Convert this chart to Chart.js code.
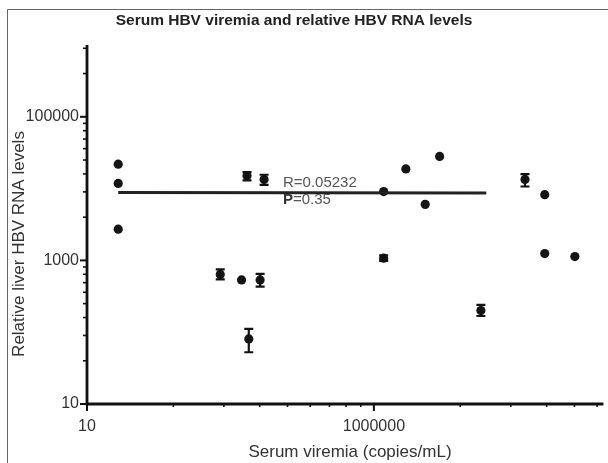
<!DOCTYPE html>
<html><head><meta charset="utf-8">
<script src="https://cdn.jsdelivr.net/npm/chart.js@4"></script>
<style>html,body{margin:0;padding:0;background:#fff;}#wrap{width:608px;height:463px;position:relative}</style>
</head><body><div id="wrap"><canvas id="c"></canvas></div>
<script>
const chartTitle = 'Serum HBV viremia and relative HBV RNA levels';
const xAxisTitle = 'Serum viremia (copies/mL)';
const yAxisTitle = 'Relative liver HBV RNA levels';
const viremia  = [35, 35, 35, 6150, 12200, 2100, 4940, 10400, 6600, 1.48e6, 3.61e6, 1.40e7, 7.85e6, 1.48e6, 7.33e7, 4.3e8, 9.5e8, 9.5e8, 3.18e9];
const rnaLevel = [21900, 11800, 2720, 15100, 13400, 638, 535, 535, 80.5, 9100, 18800, 28100, 6030, 1075, 200, 13400, 8240, 1245, 1130];
const rnaLow   = [null, null, null, 13000, 11300, 543, null, 431, 52.6, null, null, null, null, 984, 168, 10700, null, null, null];
const rnaHigh  = [null, null, null, 17000, 15600, 750, null, 649, 111, null, null, null, null, 1175, 240, 15900, null, null, null];
const fitX = [35, 9.1e7];
const fitY = [8810, 8650];
const xMajorTicks = [10, 1000000];
const yMajorTicks = [10, 1000, 100000];
const xRange = [10, 1e10];
const yRange = [10, 1e6];
const statR = 'R=0.05232';
const statPLabel = 'P';
const statPValue = '=0.35';

Chart.defaults.font.family = "'Liberation Sans', Arial, sans-serif";

function minorTicks(majors, exponent, max) {
  const out = [];
  const step = majors[1] / majors[0];
  let a = majors[0];
  while (a < max) {
    out.push(a);
    for (let k = 2; k <= 9; k++) {
      const v = a * Math.pow(k, exponent);
      if (v < max) out.push(v);
    }
    a = a * step;
  }
  return out;
}
const xAllTicks = minorTicks(xMajorTicks, 5, xRange[1]);
const yAllTicks = minorTicks(yMajorTicks, 2, yRange[1] * 1.0001);

const isMajor = (v, list) => list.some(m => Math.abs(v / m - 1) < 1e-6);

const decor = {
  id: 'decor',
  beforeDatasetsDraw(chart) {
    const ctx = chart.ctx, xs = chart.scales.x, ys = chart.scales.y;
    const ca = chart.chartArea;
    ctx.save();
    ctx.strokeStyle = '#666'; ctx.lineWidth = 1;
    ctx.beginPath(); ctx.moveTo(7.5, 463); ctx.lineTo(7.5, 9.5); ctx.lineTo(608, 9.5); ctx.stroke();
    ctx.strokeStyle = '#111';
    yAllTicks.forEach(v => {
      const py = ys.getPixelForValue(v);
      const major = isMajor(v, yMajorTicks);
      ctx.lineWidth = major ? 2 : 1.6;
      ctx.beginPath(); ctx.moveTo(ca.left, py); ctx.lineTo(ca.left - (major ? 7 : 4), py); ctx.stroke();
    });
    xAllTicks.forEach(v => {
      const px = xs.getPixelForValue(v);
      const major = isMajor(v, xMajorTicks);
      ctx.lineWidth = major ? 2 : 1.6;
      ctx.beginPath(); ctx.moveTo(px, ca.bottom); ctx.lineTo(px, ca.bottom + (major ? 7 : 3)); ctx.stroke();
    });
    ctx.lineWidth = 2.8;
    ctx.beginPath(); ctx.moveTo(ca.left, ca.top); ctx.lineTo(ca.left, ca.bottom); ctx.lineTo(ca.right, ca.bottom); ctx.stroke();
    ctx.restore();
  },
  afterDatasetsDraw(chart) {
    const ctx = chart.ctx, xs = chart.scales.x, ys = chart.scales.y;
    ctx.save();
    ctx.strokeStyle = '#111'; ctx.lineWidth = 2.2;
    viremia.forEach((xv, i) => {
      if (rnaLow[i] == null) return;
      const px = xs.getPixelForValue(xv);
      const y1 = ys.getPixelForValue(rnaLow[i]);
      const y2 = ys.getPixelForValue(rnaHigh[i]);
      ctx.beginPath();
      ctx.moveTo(px, y1); ctx.lineTo(px, y2);
      ctx.moveTo(px - 4.5, y1); ctx.lineTo(px + 4.5, y1);
      ctx.moveTo(px - 4.5, y2); ctx.lineTo(px + 4.5, y2);
      ctx.stroke();
    });
    ctx.restore();
  },
  afterDraw(chart) {
    const ctx = chart.ctx, xs = chart.scales.x, ys = chart.scales.y;
    ctx.save();
    ctx.fillStyle = '#222';
    ctx.font = "bold 15.5px 'Liberation Sans', Arial, sans-serif";
    ctx.textAlign = 'center'; ctx.textBaseline = 'middle';
    ctx.fillText(chartTitle, 294, 21);
    ctx.fillStyle = '#333';
    ctx.font = "17px 'Liberation Sans', Arial, sans-serif";
    ctx.fillText(xAxisTitle, 350, 452);
    ctx.save();
    ctx.translate(19, 244); ctx.rotate(-Math.PI / 2);
    ctx.fillText(yAxisTitle, 0, 0);
    ctx.restore();
    const tx = xs.getPixelForValue(26000);
    ctx.textAlign = 'left';
    ctx.font = "15px 'Liberation Sans', Arial, sans-serif";
    ctx.fillStyle = '#555';
    ctx.fillText(statR, tx, ys.getPixelForValue(12000));
    const py = ys.getPixelForValue(6970);
    ctx.font = "bold 15px 'Liberation Sans', Arial, sans-serif";
    ctx.fillStyle = '#333';
    ctx.fillText(statPLabel, tx, py);
    const w = ctx.measureText(statPLabel).width;
    ctx.font = "15px 'Liberation Sans', Arial, sans-serif";
    ctx.fillStyle = '#555';
    ctx.fillText(statPValue, tx + w, py);
    ctx.restore();
  }
};

new Chart(document.getElementById('c'), {
  type: 'scatter',
  data: {
    datasets: [
      {
        type: 'line',
        data: fitX.map((x, i) => ({x, y: fitY[i]})),
        borderColor: '#222', borderWidth: 3, pointRadius: 0, fill: false, tension: 0
      },
      {
        data: viremia.map((x, i) => ({x, y: rnaLevel[i]})),
        backgroundColor: '#151515', borderWidth: 0, pointRadius: 4.6, pointHoverRadius: 4.6
      }
    ]
  },
  options: {
    responsive: true, maintainAspectRatio: false, animation: false,
    layout: {padding: {top: 45, right: 0, bottom: 0, left: 0}},
    plugins: {legend: {display: false}, tooltip: {enabled: false}, title: {display: false}},
    scales: {
      x: {
        type: 'logarithmic', position: 'bottom', min: xRange[0], max: xRange[1],
        grid: {display: false, drawTicks: false, tickLength: 0}, border: {display: false},
        afterBuildTicks: s => { s.ticks = xAllTicks.map(v => ({value: v})); },
        afterFit: s => { s.height = 59; },
        ticks: {
          autoSkip: false, maxRotation: 0, padding: 13, color: '#333', font: {size: 16},
          callback: v => isMajor(v, xMajorTicks) ? String(Math.round(v)) : null
        }
      },
      y: {
        type: 'logarithmic', position: 'left', min: yRange[0], max: yRange[1],
        grid: {display: false, drawTicks: false, tickLength: 0}, border: {display: false},
        afterBuildTicks: s => { s.ticks = yAllTicks.map(v => ({value: v})); },
        afterFit: s => { s.width = 87; },
        ticks: {
          autoSkip: false, padding: 8, color: '#333', font: {size: 16},
          callback: v => isMajor(v, yMajorTicks) ? String(Math.round(v)) : null
        }
      }
    }
  },
  plugins: [decor]
});
</script></body></html>
